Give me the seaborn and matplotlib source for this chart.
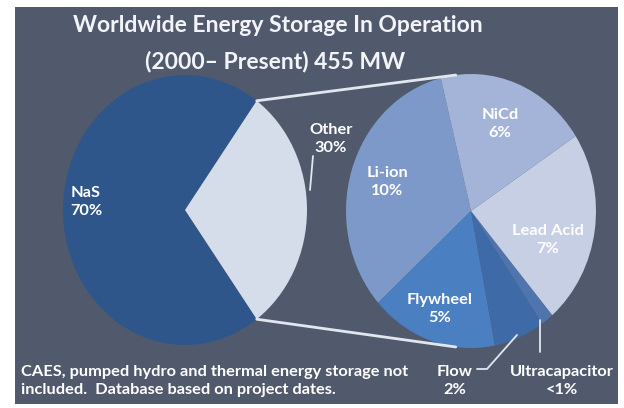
import matplotlib
matplotlib.use("Agg")
import matplotlib.pyplot as plt
from matplotlib.patches import Rectangle
import numpy as np
import seaborn as sns

# ---------------- data ----------------
main_labels = ["NaS", "Other"]
main_values = [70, 30]
main_pct = ["70%", "30%"]

sub_labels = ["Li-ion", "Flywheel", "Flow", "Ultracapacitor", "Lead Acid", "NiCd"]
sub_values = [10, 5, 2, 0.5, 7, 6]
sub_pct = ["10%", "5%", "2%", "<1%", "7%", "6%"]

title_lines = ["Worldwide Energy Storage In Operation", "(2000\u2013 Present) 455 MW"]
footnote = "CAES, pumped hydro and thermal energy storage not\nincluded.  Database based on project dates."

# ---------------- style ----------------
sns.set_theme(style="white")
plt.rcParams["font.family"] = ["Lato", "DejaVu Sans"]

BG = "#515a6d"
main_colors = ["#2e568a", "#d5dcea"]
sub_colors = ["#7d99c9", "#4a7fc2", "#3e6aa8", "#5074ad", "#c6cfe4", "#a4b4d8"]
LINE = "#e2e6ee"

W, H = 624, 408
fig = plt.figure(figsize=(W / 100, H / 100), dpi=100)
fig.patch.set_facecolor("white")

bg = fig.add_axes([0, 0, 1, 1])
bg.set_xlim(0, W)
bg.set_ylim(H, 0)
bg.axis("off")
bg.add_patch(Rectangle((15, 7), 603, 397, facecolor=BG, edgecolor="none"))


def ellipse_axes(cx, cy, rx, ry):
    ax = fig.add_axes([(cx - rx) / W, 1 - (cy + ry) / H, 2 * rx / W, 2 * ry / H])
    ax.patch.set_alpha(0)
    return ax


# left pie
L = dict(cx=185, cy=210, rx=122, ry=135)
axL = ellipse_axes(**L)
start_main = 180 * main_values[1] / sum(main_values)
axL.pie(main_values, colors=main_colors, startangle=start_main, counterclock=True,
        wedgeprops=dict(linewidth=0))
axL.set_aspect("auto")
axL.set_xlim(-1, 1)
axL.set_ylim(-1, 1)
axL.axis("off")

# right pie
R = dict(cx=471, cy=211, rx=125, ry=137)
axR = ellipse_axes(**R)
axR.pie(sub_values, colors=sub_colors, startangle=104, counterclock=True,
        wedgeprops=dict(linewidth=0))
axR.set_aspect("auto")
axR.set_xlim(-1, 1)
axR.set_ylim(-1, 1)
axR.axis("off")

# overlay for texts / lines
ov = fig.add_axes([0, 0, 1, 1])
ov.set_xlim(0, W)
ov.set_ylim(H, 0)
ov.axis("off")
ov.patch.set_alpha(0)


def pt(g, ang):
    a = np.deg2rad(ang)
    return g["cx"] + g["rx"] * np.cos(a), g["cy"] - g["ry"] * np.sin(a)


# connector lines
p1 = pt(L, start_main)
p2 = pt(L, -start_main)
q1 = pt(R, 97)
q2 = pt(R, 263)
ov.plot([p1[0], q1[0]], [p1[1], q1[1]], color=LINE, lw=2, solid_capstyle="round")
ov.plot([p2[0], q2[0]], [p2[1], q2[1]], color=LINE, lw=2, solid_capstyle="round")

# titles
ov.text(278, 26, title_lines[0], color="#f2f4f8", fontsize=16.5, fontweight="bold",
        ha="center", va="center")
ov.text(275, 62, title_lines[1], color="#f2f4f8", fontsize=16.5, fontweight="bold",
        ha="center", va="center")

tkw = dict(color="white", fontsize=11.8, fontweight="bold", ha="center", va="center",
           linespacing=1.45)

# main labels
ov.text(86, 202, f"{main_labels[0]}\n{main_pct[0]}", **tkw)
ov.text(331, 139, f"{main_labels[1]}\n{main_pct[1]}", **tkw)
ov.plot([313, 310], [156, 190], color=LINE, lw=1.3)

# sub labels
sub_pos = {
    "Li-ion": (387, 182),
    "Flywheel": (440, 309),
    "Flow": (455, 381),
    "Ultracapacitor": (562, 381),
    "Lead Acid": (548, 240),
    "NiCd": (500, 124),
}
for lab, pc in zip(sub_labels, sub_pct):
    x, y = sub_pos[lab]
    ov.text(x, y, f"{lab}\n{pc}", **tkw)

# leaders
ov.plot([517, 487, 477], [335, 369, 369], color=LINE, lw=1.3)
ov.plot([540, 540], [320, 352], color=LINE, lw=1.3)

# footnote
ov.text(21, 381, footnote, color="white", fontsize=11.8, fontweight="bold",
        ha="left", va="center", linespacing=1.45)

fig.savefig("out.png", dpi=100, facecolor="white")
